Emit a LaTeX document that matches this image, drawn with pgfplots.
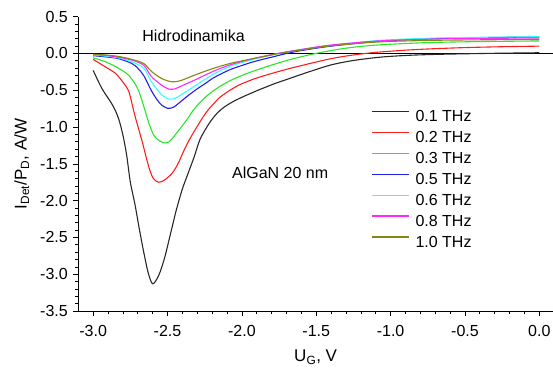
\documentclass[border=0pt]{standalone}
\usepackage{fontspec}
\setmainfont{Liberation Sans}
\usepackage{pgfplots}
\pgfplotsset{compat=1.18}
\definecolor{cBlack}{RGB}{40,40,40}
\definecolor{cRed}{RGB}{255,30,30}
\definecolor{cGreen}{RGB}{40,230,40}
\definecolor{cBlue}{RGB}{30,30,240}
\definecolor{cCyan}{RGB}{50,255,255}
\definecolor{cMag}{RGB}{255,40,255}
\definecolor{cOlive}{RGB}{135,135,20}
\begin{document}
\begin{tikzpicture}
\begin{axis}[
  scale only axis, width=474.7pt, height=294.3pt,
  xmin=-3.1, xmax=0.092, ymin=-3.5, ymax=0.5,
  axis lines=left, axis line style={-, line width=0.8pt},
  tick align=outside, tick style={black, line width=0.7pt},
  major tick length=5pt, minor tick length=3pt,
  xtick={-3,-2.5,...,0}, ytick={-3.5,-3,...,0.5},
  minor x tick num=4, minor y tick num=4,
  /pgf/number format/assume math mode=true,
  /pgf/number format/fixed, /pgf/number format/fixed zerofill, /pgf/number format/precision=1,
  every tick label/.append style={font=\fontsize{16}{19}\selectfont},
  x tick label style={yshift=-6pt},
  y tick label style={xshift=-2pt},
  xlabel={U\textsubscript{G}, V},
  ylabel={I\textsubscript{Det}/P\textsubscript{D}, A/W},
  label style={font=\fontsize{17}{20}\selectfont},
  xlabel style={yshift=-6pt},
  ylabel style={yshift=4pt},
  legend style={draw=none, fill=none, at={(rel axis cs:0.6166,0.684)}, anchor=north west,
    font=\fontsize{16}{19}\selectfont, inner sep=0pt, outer sep=0pt,
    nodes={inner sep=0pt, text height=12pt, text depth=3pt}, row sep=5.9pt, column sep=6pt},
  legend cell align=left,
  legend image code/.code={\draw[#1, line width=1.5pt] (0pt,5.5pt) -- (37pt,5.5pt);},
  every axis plot/.append style={line width=1.1pt, smooth, no markers},
]
\draw[black, line width=0.7pt] (axis cs:-3.1,0) -- (axis cs:0.092,0);
\addplot[cBlack] coordinates {(-3.0,-0.23) (-2.94,-0.48) (-2.87,-0.70) (-2.83,-0.88) (-2.80,-1.11) (-2.775,-1.38) (-2.75,-1.75) (-2.72,-2.04) (-2.69,-2.38) (-2.66,-2.70) (-2.63,-2.98) (-2.60,-3.13) (-2.56,-3.02) (-2.52,-2.78) (-2.48,-2.45) (-2.44,-2.12) (-2.40,-1.84) (-2.36,-1.62) (-2.32,-1.40) (-2.28,-1.16) (-2.22,-0.95) (-2.17,-0.82) (-2.12,-0.73) (-2.06,-0.655) (-2.00,-0.595) (-1.95,-0.55) (-1.88,-0.49) (-1.78,-0.41) (-1.68,-0.34) (-1.55,-0.25) (-1.40,-0.155) (-1.25,-0.095) (-1.07,-0.05) (-0.9,-0.027) (-0.73,-0.014) (-0.5,-0.004) (-0.25,0.004) (0,0.01)};
\addlegendentry{0.1 THz}
\addplot[cRed] coordinates {(-3.0,-0.08) (-2.92,-0.18) (-2.85,-0.27) (-2.80,-0.39) (-2.76,-0.52) (-2.72,-0.84) (-2.67,-1.20) (-2.645,-1.40) (-2.62,-1.58) (-2.595,-1.70) (-2.56,-1.75) (-2.52,-1.72) (-2.47,-1.63) (-2.43,-1.50) (-2.39,-1.32) (-2.35,-1.16) (-2.30,-0.99) (-2.26,-0.86) (-2.22,-0.75) (-2.15,-0.60) (-2.08,-0.50) (-2.02,-0.43) (-1.95,-0.37) (-1.88,-0.32) (-1.78,-0.26) (-1.68,-0.205) (-1.55,-0.14) (-1.40,-0.07) (-1.25,-0.02) (-1.1,0.015) (-0.9,0.045) (-0.73,0.063) (-0.5,0.08) (-0.25,0.092) (0,0.10)};
\addlegendentry{0.2 THz}
\addplot[cGreen] coordinates {(-3.0,-0.06) (-2.92,-0.11) (-2.83,-0.20) (-2.76,-0.30) (-2.70,-0.48) (-2.655,-0.75) (-2.625,-0.95) (-2.59,-1.12) (-2.55,-1.19) (-2.52,-1.215) (-2.49,-1.20) (-2.45,-1.11) (-2.415,-1.02) (-2.37,-0.90) (-2.33,-0.78) (-2.28,-0.66) (-2.22,-0.55) (-2.15,-0.45) (-2.08,-0.37) (-2.02,-0.315) (-1.95,-0.26) (-1.88,-0.21) (-1.78,-0.145) (-1.68,-0.085) (-1.55,-0.02) (-1.40,0.04) (-1.25,0.085) (-1.07,0.118) (-0.75,0.148) (-0.4,0.162) (0,0.17)};
\addlegendentry{0.3 THz}
\addplot[cBlue] coordinates {(-3.0,-0.03) (-2.92,-0.045) (-2.83,-0.07) (-2.74,-0.136) (-2.70,-0.2) (-2.66,-0.30) (-2.61,-0.50) (-2.57,-0.63) (-2.54,-0.70) (-2.50,-0.745) (-2.46,-0.73) (-2.415,-0.66) (-2.36,-0.57) (-2.30,-0.48) (-2.24,-0.40) (-2.19,-0.33) (-2.08,-0.22) (-1.95,-0.13) (-1.88,-0.09) (-1.78,-0.04) (-1.70,0.0) (-1.60,0.04) (-1.40,0.10) (-1.07,0.168) (-0.73,0.2) (-0.4,0.215) (0,0.225)};
\addlegendentry{0.5 THz}
\addplot[cCyan] coordinates {(-3.0,-0.02) (-2.92,-0.035) (-2.83,-0.06) (-2.74,-0.114) (-2.66,-0.20) (-2.61,-0.38) (-2.54,-0.56) (-2.49,-0.62) (-2.45,-0.61) (-2.415,-0.57) (-2.36,-0.50) (-2.30,-0.42) (-2.19,-0.28) (-2.08,-0.175) (-1.95,-0.095) (-1.88,-0.058) (-1.76,-0.005) (-1.61,0.048) (-1.40,0.11) (-1.07,0.178) (-0.73,0.208) (-0.4,0.22) (0,0.228)};
\addlegendentry{0.6 THz}
\addplot[cMag] coordinates {(-3.0,-0.015) (-2.92,-0.025) (-2.83,-0.05) (-2.74,-0.09) (-2.66,-0.16) (-2.61,-0.31) (-2.54,-0.43) (-2.49,-0.485) (-2.45,-0.48) (-2.415,-0.45) (-2.36,-0.40) (-2.30,-0.345) (-2.19,-0.24) (-2.08,-0.155) (-1.95,-0.082) (-1.88,-0.05) (-1.77,-0.003) (-1.61,0.052) (-1.40,0.115) (-1.07,0.172) (-0.73,0.195) (-0.4,0.205) (0,0.21)};
\addlegendentry{0.8 THz}
\addplot[cOlive] coordinates {(-3.0,-0.01) (-2.92,-0.02) (-2.83,-0.04) (-2.74,-0.08) (-2.66,-0.136) (-2.61,-0.24) (-2.54,-0.34) (-2.47,-0.385) (-2.415,-0.37) (-2.35,-0.32) (-2.28,-0.265) (-2.18,-0.195) (-2.08,-0.136) (-1.95,-0.08) (-1.88,-0.052) (-1.75,0.0) (-1.6,0.05) (-1.4,0.105) (-1.07,0.158) (-0.73,0.178) (-0.4,0.186) (0,0.19)};
\addlegendentry{1.0 THz}
\node[font=\fontsize{16}{19}\selectfont] at (axis cs:-2.325,0.235) {Hidrodinamika};
\node[font=\fontsize{16}{19}\selectfont] at (axis cs:-1.743,-1.615) {AlGaN 20 nm};
\coordinate (sw) at (rel axis cs:0,0);
\coordinate (ne) at (rel axis cs:1,1);
\end{axis}
\pgfresetboundingbox
\path ([xshift=-78.3pt,yshift=-56pt]sw) rectangle ([yshift=16.7pt]ne);
\end{tikzpicture}
\end{document}
